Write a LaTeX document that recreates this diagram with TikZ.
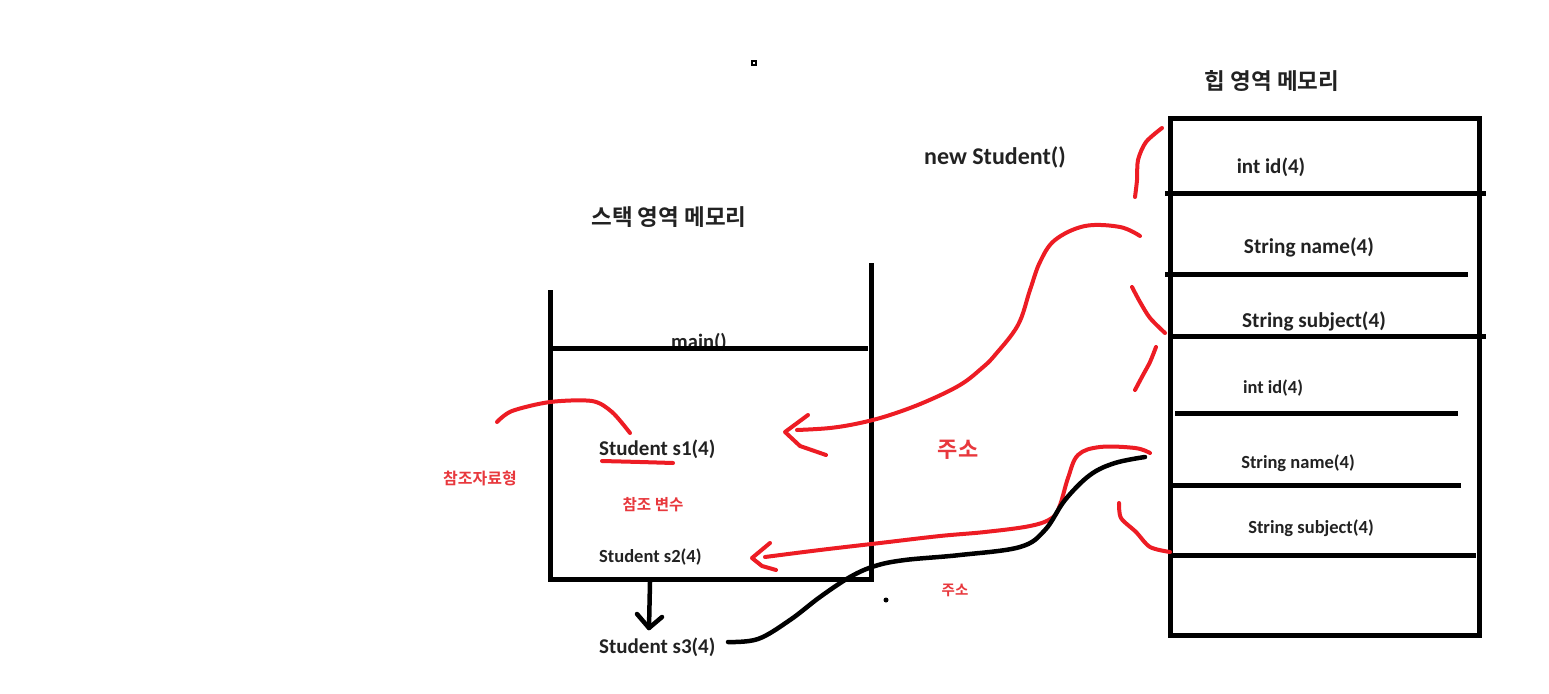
\documentclass[tikz,border=0pt]{standalone}
\usepackage{fontspec}
\setmainfont{Carlito}[BoldFont={Carlito Bold}]
\newfontfamily\kr{Noto Sans CJK KR}[BoldFont={Noto Sans CJK KR Bold}]
\definecolor{pred}{HTML}{ED1C24}
\definecolor{tred}{HTML}{E8383D}
\definecolor{tgray}{HTML}{222222}
\newcommand{\fs}[1]{\fontsize{#1}{#1}\selectfont}
\begin{document}
\begin{tikzpicture}[x=1pt,y=-1pt,
  wall/.style={line width=5pt,black},
  redline/.style={line width=4pt,pred,line cap=round,line join=round},
  blkline/.style={line width=4.5pt,black,line cap=round,line join=round},
  lbl/.style={text=tgray,inner sep=0pt},
  krlbl/.style={text=tgray,inner sep=0pt},
  krred/.style={text=tred,inner sep=0pt}]
\useasboundingbox[fill=white] (0,0) rectangle (1549,693);

% titles
\node[krlbl,font=\kr\bfseries\fs{22.5}] (heaptitle) at (1272,81) {힙 영역 메모리};
\node[lbl,font=\bfseries\fs{24}] (newst) at (995,157) {new Student()};
\node[krlbl,font=\kr\bfseries\fs{22.5}] (stacktitle) at (669,217) {스택 영역 메모리};
\draw[line width=1.5pt] (752,61) rectangle (756,65);

% stack labels
\node[lbl,font=\bfseries\fs{20.5}] (mainf) at (699,342) {main()};
\node[lbl,anchor=west,font=\bfseries\fs{21}] (s1) at (599,449) {Student s1(4)};
\node[lbl,anchor=west,font=\bfseries\fs{18.5}] (s2) at (599,557) {Student s2(4)};
\node[lbl,anchor=west,font=\bfseries\fs{21}] (s3) at (599,647) {Student s3(4)};
\node[krred,font=\kr\bfseries\fs{16}] (refty) at (480,478) {참조자료형};
\node[krred,font=\kr\bfseries\fs{15.6}] (refvar) at (653,505) {참조 변수};
\node[krred,font=\kr\bfseries\fs{22}] (addr1) at (958,450) {주소};
\node[krred,font=\kr\bfseries\fs{14.5}] (addr2) at (955,590) {주소};

% stack frame
\draw[wall] (550,290) -- (550,579) -- (871,579);
\draw[wall] (871,263) -- (871,582);
\draw[wall] (550,348) -- (868,348);

% heap labels
\node[lbl,font=\bfseries\fs{21}] (h1) at (1271,167) {int id(4)};
\node[lbl,font=\bfseries\fs{21.2}] (h2) at (1309,247) {String name(4)};
\node[lbl,font=\bfseries\fs{21.2}] (h3) at (1314,321) {String subject(4)};
\node[lbl,font=\bfseries\fs{18.4}] (h4) at (1273,388) {int id(4)};
\node[lbl,font=\bfseries\fs{18.5}] (h5) at (1298,463) {String name(4)};
\node[lbl,font=\bfseries\fs{18.5}] (h6) at (1311,528) {String subject(4)};

% heap box
\draw[wall] (1170,118) rectangle (1479,635);
\draw[wall] (1165,193) -- (1486,193);
\draw[wall] (1165,274) -- (1468,274);
\draw[wall] (1170,336) -- (1486,336);
\draw[wall] (1175,413) -- (1458,413);
\draw[wall] (1168,485) -- (1461,485);
\draw[wall] (1168,555) -- (1476,555);

% red braces near heap
\draw[redline] plot[smooth] coordinates {(1162,128) (1146,142) (1138,160) (1137,180) (1135,197)};
\draw[redline] plot[smooth] coordinates {(1132,287) (1140,302) (1150,318) (1165,333)};
\draw[redline] plot[smooth] coordinates {(1156,347) (1150,362) (1143,375) (1135,390)};
\draw[redline] plot[smooth] coordinates {(1119,503) (1121,518) (1136,532) (1150,547) (1170,552)};

% red underline and curve at s1
\draw[redline] plot[smooth] coordinates {(602,461) (640,462) (673,463)};
\draw[redline] plot[smooth] coordinates {(497,422) (512,411) (550,402) (592,401) (612,412) (630,433)};

% red arrow 1 (to s1)
\coordinate (a1s) at (1140,236);
\coordinate (a1t) at (785,432);
\draw[redline] plot[smooth,tension=0.6] coordinates {(a1s) (1120,227) (1085,226) (1055,240) (1040,262) (1030,290) (1018,325) (995,355) (982,368) (960,385) (925,402) (890,415) (860,423) (830,428) (797,430)};
\draw[redline] (808,415) -- (a1t) -- (800,446) -- (826,455);

% red arrow 2 (to s2)
\coordinate (a2s) at (1150,453);
\coordinate (a2t) at (752,558);
\draw[redline] plot[smooth,tension=0.6] coordinates {(a2s) (1135,448) (1100,447) (1078,455) (1068,478) (1060,505) (1052,518) (1030,526) (985,532) (940,536) (880,543) (820,550) (765,557)};
\draw[redline] (770,543) -- (a2t) -- (762,566) -- (776,570);

% black curve from s3 to heap
\coordinate (bks) at (728,642);
\coordinate (bke) at (1145,457);
\draw[blkline] plot[smooth,tension=0.6] coordinates {(bks) (758,639) (790,620) (820,597) (850,577) (875,566) (905,560) (960,555) (1020,547) (1045,530) (1065,500) (1090,475) (1115,463) (bke)};

% black down arrow
\coordinate (dst) at (650,582);
\coordinate (dtip) at (649,628);
\draw[blkline] (dst) -- (dtip);
\draw[blkline] (637,614) -- (dtip) -- (662,617);

% dot
\fill (886,600) circle (2.5pt);
\end{tikzpicture}
\end{document}
